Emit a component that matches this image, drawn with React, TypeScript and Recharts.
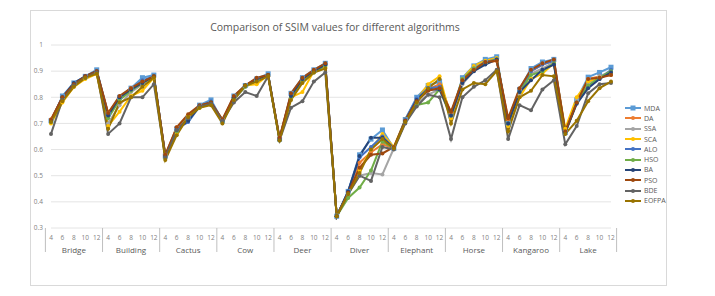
import { LineChart, Line, XAxis, YAxis, CartesianGrid } from 'recharts'

document.body.style.margin = '0'

const images = ['Bridge', 'Building', 'Cactus', 'Cow', 'Deer', 'Diver', 'Elephant', 'Horse', 'Kangaroo', 'Lake']
const thresholds = [4, 6, 8, 10, 12]
const yTicks = [0.3, 0.4, 0.5, 0.6, 0.7, 0.8, 0.9, 1]

// one value per image x threshold, in the order of images above
const MDA = [
  0.71, 0.805, 0.855, 0.88, 0.905, 0.735, 0.8, 0.835, 0.875, 0.885,
  0.575, 0.68, 0.72, 0.77, 0.79, 0.71, 0.805, 0.845, 0.87, 0.89,
  0.64, 0.815, 0.875, 0.905, 0.93, 0.345, 0.44, 0.58, 0.64, 0.675,
  0.605, 0.715, 0.8, 0.845, 0.86, 0.73, 0.875, 0.92, 0.945, 0.955,
  0.7, 0.83, 0.91, 0.935, 0.945, 0.665, 0.79, 0.877, 0.895, 0.915,
]
const DA = [
  0.715, 0.8, 0.85, 0.88, 0.9, 0.74, 0.8, 0.835, 0.86, 0.88,
  0.58, 0.685, 0.73, 0.765, 0.78, 0.715, 0.8, 0.845, 0.87, 0.885,
  0.645, 0.81, 0.87, 0.9, 0.925, 0.345, 0.43, 0.55, 0.59, 0.62,
  0.605, 0.71, 0.79, 0.83, 0.85, 0.74, 0.86, 0.905, 0.93, 0.94,
  0.715, 0.83, 0.9, 0.925, 0.94, 0.665, 0.78, 0.87, 0.88, 0.885,
]
const SSA = [
  0.71, 0.795, 0.85, 0.875, 0.895, 0.7, 0.77, 0.82, 0.85, 0.88,
  0.57, 0.67, 0.72, 0.765, 0.78, 0.71, 0.79, 0.84, 0.865, 0.885,
  0.64, 0.8, 0.86, 0.895, 0.92, 0.345, 0.43, 0.5, 0.51, 0.505,
  0.605, 0.705, 0.775, 0.81, 0.83, 0.72, 0.85, 0.9, 0.93, 0.945,
  0.69, 0.81, 0.89, 0.91, 0.935, 0.665, 0.79, 0.855, 0.88, 0.9,
]
const SCA = [
  0.7, 0.78, 0.84, 0.87, 0.89, 0.69, 0.745, 0.805, 0.825, 0.875,
  0.575, 0.66, 0.73, 0.76, 0.775, 0.71, 0.795, 0.845, 0.85, 0.885,
  0.64, 0.8, 0.82, 0.9, 0.915, 0.345, 0.43, 0.52, 0.6, 0.66,
  0.61, 0.715, 0.79, 0.85, 0.88, 0.72, 0.87, 0.92, 0.94, 0.95,
  0.69, 0.8, 0.87, 0.89, 0.93, 0.68, 0.8, 0.86, 0.875, 0.89,
]
const ALO = [
  0.71, 0.8, 0.85, 0.88, 0.9, 0.735, 0.8, 0.83, 0.865, 0.88,
  0.575, 0.68, 0.705, 0.765, 0.785, 0.71, 0.8, 0.845, 0.87, 0.885,
  0.64, 0.81, 0.87, 0.9, 0.925, 0.345, 0.44, 0.57, 0.61, 0.65,
  0.605, 0.715, 0.795, 0.835, 0.84, 0.73, 0.86, 0.91, 0.935, 0.945,
  0.7, 0.825, 0.9, 0.925, 0.94, 0.665, 0.78, 0.84, 0.87, 0.905,
]
const HSO = [
  0.705, 0.795, 0.845, 0.875, 0.895, 0.72, 0.79, 0.825, 0.855, 0.88,
  0.565, 0.67, 0.72, 0.76, 0.78, 0.705, 0.795, 0.84, 0.865, 0.885,
  0.635, 0.8, 0.86, 0.895, 0.92, 0.345, 0.415, 0.455, 0.52, 0.63,
  0.605, 0.705, 0.77, 0.78, 0.83, 0.73, 0.87, 0.91, 0.93, 0.945,
  0.7, 0.82, 0.885, 0.9, 0.93, 0.665, 0.78, 0.845, 0.875, 0.9,
]
const BA = [
  0.71, 0.8, 0.855, 0.88, 0.9, 0.73, 0.8, 0.83, 0.855, 0.88,
  0.575, 0.675, 0.71, 0.765, 0.78, 0.71, 0.8, 0.845, 0.87, 0.885,
  0.64, 0.805, 0.87, 0.9, 0.925, 0.345, 0.44, 0.575, 0.645, 0.645,
  0.605, 0.71, 0.79, 0.83, 0.83, 0.73, 0.855, 0.9, 0.925, 0.945,
  0.7, 0.82, 0.865, 0.905, 0.925, 0.665, 0.775, 0.835, 0.87, 0.895,
]
const PSO = [
  0.715, 0.8, 0.85, 0.88, 0.9, 0.74, 0.805, 0.835, 0.86, 0.88,
  0.58, 0.685, 0.735, 0.77, 0.78, 0.715, 0.805, 0.845, 0.875, 0.885,
  0.645, 0.815, 0.875, 0.905, 0.93, 0.345, 0.435, 0.53, 0.58, 0.585,
  0.61, 0.71, 0.785, 0.825, 0.835, 0.745, 0.865, 0.905, 0.935, 0.94,
  0.72, 0.835, 0.905, 0.93, 0.945, 0.67, 0.78, 0.87, 0.875, 0.885,
]
const BDE = [
  0.66, 0.79, 0.845, 0.875, 0.895, 0.66, 0.7, 0.8, 0.8, 0.85,
  0.57, 0.675, 0.72, 0.765, 0.775, 0.71, 0.78, 0.82, 0.805, 0.88,
  0.635, 0.76, 0.785, 0.86, 0.895, 0.345, 0.43, 0.5, 0.48, 0.61,
  0.6, 0.7, 0.765, 0.81, 0.8, 0.64, 0.8, 0.84, 0.865, 0.905,
  0.64, 0.77, 0.75, 0.83, 0.865, 0.62, 0.69, 0.815, 0.85, 0.855,
]
const EOFPA = [
  0.705, 0.785, 0.84, 0.875, 0.89, 0.68, 0.78, 0.8, 0.84, 0.875,
  0.56, 0.655, 0.725, 0.76, 0.77, 0.7, 0.79, 0.845, 0.86, 0.88,
  0.635, 0.79, 0.855, 0.895, 0.91, 0.345, 0.43, 0.51, 0.6, 0.64,
  0.605, 0.705, 0.78, 0.835, 0.87, 0.7, 0.83, 0.855, 0.85, 0.9,
  0.67, 0.8, 0.825, 0.885, 0.88, 0.66, 0.71, 0.785, 0.835, 0.86,
]

const series = [
  { key: 'MDA', values: MDA, color: '#5B9BD5' },
  { key: 'DA', values: DA, color: '#ED7D31' },
  { key: 'SSA', values: SSA, color: '#A5A5A5' },
  { key: 'SCA', values: SCA, color: '#FFC000' },
  { key: 'ALO', values: ALO, color: '#4472C4' },
  { key: 'HSO', values: HSO, color: '#70AD47' },
  { key: 'BA', values: BA, color: '#264478' },
  { key: 'PSO', values: PSO, color: '#9E480E' },
  { key: 'BDE', values: BDE, color: '#636363' },
  { key: 'EOFPA', values: EOFPA, color: '#997300' },
]

const data = images.flatMap((img, i) =>
  thresholds.map((t, j) => {
    const row: Record<string, string | number> = { id: `${img}-${t}`, t, img }
    series.forEach((s) => { row[s.key] = s.values[i * 5 + j] })
    return row
  })
)

const W = 715
const H = 296
const LEFT = 51
const RIGHT = 611
const band = (RIGHT - LEFT) / data.length

const font = 'Open Sans, sans-serif'

function CategoryTick(props: any) {
  const { x, y, payload } = props
  const idx = payload.index
  const row = data[idx]
  return (
    <g>
      <text x={x} y={y + 4} textAnchor="middle" fontSize={6.5} fill="#7f7f7f" fontFamily={font}>
        {row.t}
      </text>
      {idx % 5 === 2 && (
        <text x={x} y={y + 17} textAnchor="middle" fontSize={8} fill="#595959" fontFamily={font}>
          {row.img}
        </text>
      )}
      {idx % 5 === 0 && (
        <line x1={x - band / 2} x2={x - band / 2} y1={y - 8} y2={y + 16} stroke="#bfbfbf" />
      )}
      {idx === data.length - 1 && (
        <line x1={x + band / 2} x2={x + band / 2} y1={y - 8} y2={y + 16} stroke="#bfbfbf" />
      )}
    </g>
  )
}

function SquareDot(props: any) {
  const { cx, cy, stroke } = props
  if (cx == null || cy == null) return null
  return <rect x={cx - 2.5} y={cy - 2.5} width={5} height={5} fill={stroke} />
}

function LegendBox() {
  return (
    <div style={{ fontFamily: font, fontSize: 7, color: '#595959' }}>
      {series.map((s) => (
        <div key={s.key} style={{ display: 'flex', alignItems: 'center', height: 10.3 }}>
          <svg width={16} height={6} style={{ marginRight: 3 }}>
            <line x1={0} x2={16} y1={3} y2={3} stroke={s.color} strokeWidth={2} />
            {s.key === 'MDA' ? (
              <rect x={5.5} y={0.5} width={5} height={5} fill={s.color} />
            ) : (
              <circle cx={8} cy={3} r={2} fill={s.color} />
            )}
          </svg>
          <span>{s.key}</span>
        </div>
      ))}
    </div>
  )
}

export default function App() {
  return (
    <div style={{ position: 'relative', width: W, height: H, background: '#fff' }}>
      <div
        style={{
          position: 'absolute', left: 30, top: 10, width: 637, height: 276,
          border: '1px solid #d9d9d9', boxSizing: 'border-box',
        }}
      />
      <div
        style={{
          position: 'absolute', left: 0, width: 670, top: 20, textAlign: 'center',
          fontFamily: font, fontSize: 10.5, color: '#595959',
        }}
      >
        Comparison of SSIM values for different algorithms
      </div>
      <div style={{ position: 'absolute', left: 0, top: 0 }}>
        <LineChart width={W} height={H} data={data} margin={{ top: 45, right: W - RIGHT, bottom: 38, left: LEFT - 22 }}>
          <CartesianGrid vertical={false} stroke="#e4e4e4" />
          <XAxis
            dataKey="id"
            interval={0}
            tick={<CategoryTick />}
            tickLine={false}
            axisLine={false}
            height={30}
          />
          <YAxis
            domain={[0.3, 1]}
            ticks={yTicks}
            tickFormatter={(v: number) => String(Math.round(v * 10) / 10)}
            tick={{ fontSize: 6.5, fill: '#7f7f7f', fontFamily: font }}
            tickLine={false}
            axisLine={false}
            width={22}
          />
          {series.map((s) => (
            <Line
              key={s.key}
              dataKey={s.key}
              stroke={s.color}
              strokeWidth={2}
              dot={s.key === 'MDA' ? <SquareDot /> : { r: 2, fill: s.color, stroke: s.color, strokeWidth: 0 }}
              type="linear"
              isAnimationActive={false}
            />
          ))}
        </LineChart>
      </div>
      <div style={{ position: 'absolute', left: 625, top: 103 }}>
        <LegendBox />
      </div>
    </div>
  )
}
